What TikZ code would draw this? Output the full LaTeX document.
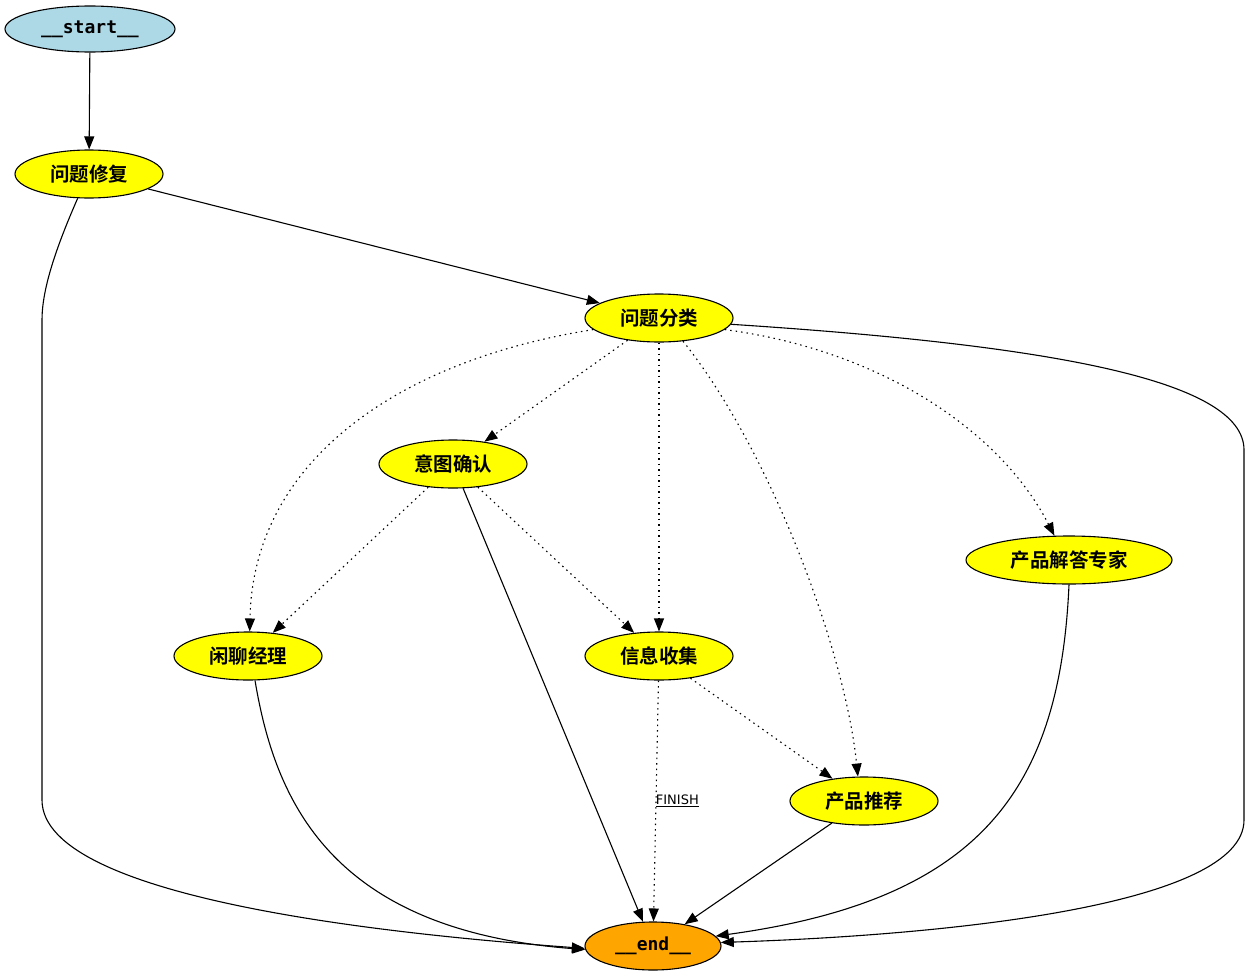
\documentclass[tikz,border=0pt]{standalone}
\usepackage{fontspec}
\usetikzlibrary{shapes.geometric,arrows.meta}
\newfontfamily\cjkb{Noto Sans CJK SC Bold}
\newfontfamily\monob{DejaVu Sans Mono Bold}
\newfontfamily\labfont{DejaVu Sans}
\definecolor{gvblue}{RGB}{173,216,230}
\definecolor{gvyellow}{RGB}{255,255,0}
\definecolor{gvorange}{RGB}{255,165,0}
\tikzset{
  gnode/.style={ellipse, draw=black, line width=1.1pt, inner sep=0pt, minimum height=48pt},
  cjknode/.style={gnode, fill=gvyellow, font=\cjkb\fontsize{19.5}{20}\selectfont},
  mononode/.style={gnode, font=\monob\fontsize{18}{19}\selectfont},
  edge/.style={line width=1.1pt, -{Triangle[length=13pt,width=10pt]}},
  dotedge/.style={edge, dash pattern=on 1.5pt off 4pt},
}
\begin{document}
\begin{tikzpicture}[x=1pt,y=-1pt]
\useasboundingbox (0,0) rectangle (1250,977);
\node[mononode, fill=gvblue, minimum width=170pt, minimum height=46pt] (start) at (90,29) {\_\_start\_\_};
\node[cjknode, minimum width=148pt] (fix) at (89,174) {问题修复};
\node[cjknode, minimum width=148pt] (cls) at (659,318) {问题分类};
\node[cjknode, minimum width=148pt] (intent) at (453,464) {意图确认};
\node[cjknode, minimum width=206pt] (expert) at (1069,560) {产品解答专家};
\node[cjknode, minimum width=148pt] (chat) at (248,656) {闲聊经理};
\node[cjknode, minimum width=148pt] (info) at (659,656) {信息收集};
\node[cjknode, minimum width=148pt] (rec) at (864,801) {产品推荐};
\node[mononode, fill=gvorange, minimum width=136pt] (end) at (653,946) {\_\_end\_\_};

\draw[edge] (start) -- (fix);
\draw[edge] (fix) -- (cls);
\draw[edge] (fix.245) .. controls (55,250) and (42,290) .. (42,320) -- (42,800) .. controls (42,900) and (400,935) .. (end.182);
\draw[edge] (cls.-5) .. controls (1050,345) and (1244,380) .. (1244,450) -- (1244,820) .. controls (1244,905) and (950,935) .. (end.3);
\draw[dotedge] (cls) -- (intent);
\draw[dotedge] (cls.190) .. controls (400,360) and (253,460) .. (chat.86);
\draw[dotedge] (cls) -- (info);
\draw[dotedge] (cls.-44) .. controls (770,450) and (845,650) .. (rec.104);
\draw[dotedge] (cls.-10) .. controls (880,350) and (1000,430) .. (expert.121);
\draw[dotedge] (intent) -- (chat);
\draw[dotedge] (intent) -- (info);
\draw[edge] (intent) -- (end);
\draw[dotedge] (info) -- node[pos=0.5, right=-4pt, font=\labfont\fontsize{13}{14}\selectfont] (finish) {\underline{FINISH}} (end);
\draw[dotedge] (info) -- (rec);
\draw[edge] (chat.-74) .. controls (275,800) and (330,930) .. (end.183);
\draw[edge] (rec) -- (end);
\draw[edge] (expert.south) .. controls (1060,790) and (980,900) .. (end.9);
\end{tikzpicture}
\end{document}
